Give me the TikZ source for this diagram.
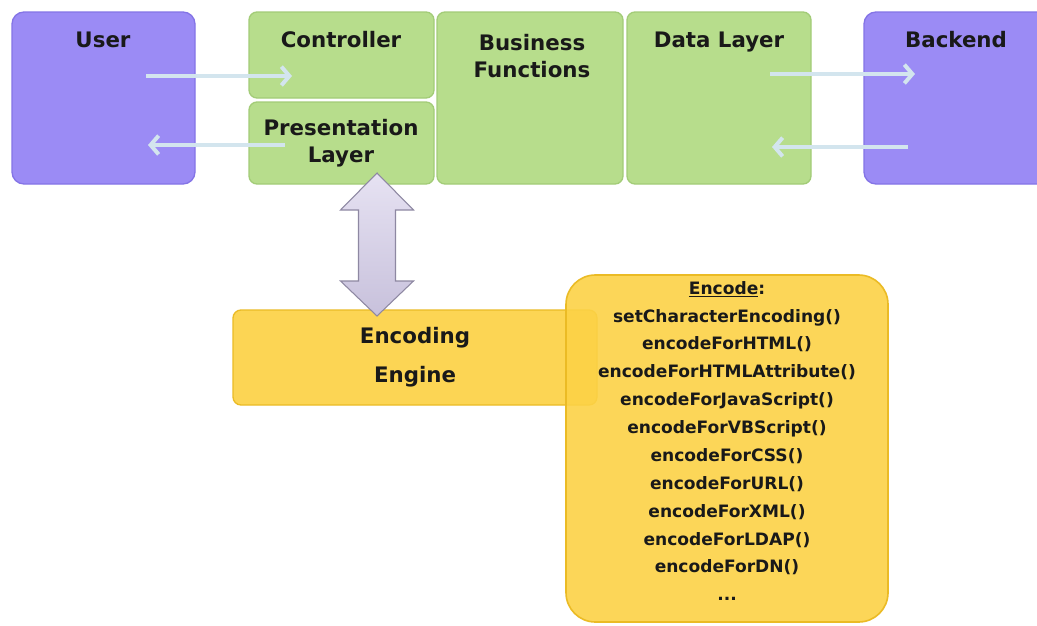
\documentclass[tikz,border=0pt]{standalone}
\usepackage{fontspec}
\setmainfont{DejaVu Sans}
\usetikzlibrary{arrows.meta}
\definecolor{purp}{HTML}{9B8BF5}
\definecolor{purpd}{HTML}{8474E6}
\definecolor{grn}{HTML}{B7DD8C}
\definecolor{grnd}{HTML}{A3CC78}
\definecolor{yel}{HTML}{FCD246}
\definecolor{yeld}{HTML}{EBBB25}
\definecolor{flow}{HTML}{D3E5EE}
\definecolor{lav}{HTML}{D6CFEA}
\definecolor{lavd}{HTML}{8E88A2}
\tikzset{
  px/.style={x=0.75pt,y=-0.75pt},
  pbox/.style={draw=purpd,line width=1pt,fill=purp,rounded corners=9pt,inner sep=0pt},
  gbox/.style={draw=grnd,line width=1pt,fill=grn,rounded corners=6pt,inner sep=0pt},
  lbl/.style={font=\bfseries\fontsize{16}{20.5}\selectfont,align=center,inner sep=0pt,text=black!90},
  flowarrow/.style={draw=flow,line width=3.4pt,-{Straight Barb[length=6pt,width=14pt,line width=3pt]}},
  code/.style={font=\bfseries\fontsize{12.8}{20.9}\selectfont,align=center,inner sep=0pt,text=black!90}
}
\begin{document}
\begin{tikzpicture}[px]
\useasboundingbox (0,0) rectangle (1037,625);
\fill[white] (0,0) rectangle (1037,625);
\begin{scope}
\clip (0,0) rectangle (1037,625);
% boxes
\node[pbox,minimum width=183*0.75pt,minimum height=172*0.75pt] (user) at (103.5,98) {};
\node[pbox,minimum width=190*0.75pt,minimum height=172*0.75pt] (backend) at (959,98) {};
\node[gbox,minimum width=185*0.75pt,minimum height=86*0.75pt] (ctrl) at (341.5,55) {};
\node[gbox,minimum width=185*0.75pt,minimum height=82*0.75pt] (pres) at (341.5,143) {};
\node[gbox,minimum width=186*0.75pt,minimum height=172*0.75pt] (bus) at (530,98) {};
\node[gbox,minimum width=184*0.75pt,minimum height=172*0.75pt] (data) at (719,98) {};
\end{scope}
% labels
\node[lbl] (tuser) at (103,40) {User};
\node[lbl] (tctrl) at (341,40) {Controller};
\node[lbl] (tpres) at (341,143) {Presentation\\Layer};
\node[lbl] (tbus) at (532,56) {Business\\Functions};
\node[lbl] (tdata) at (719,42) {Data Layer};
\node[lbl] (tback) at (956,40) {Backend};
% flow arrows
\coordinate (u1) at (146,76);
\coordinate (c1) at (292,76);
\coordinate (p1) at (285,145);
\coordinate (u2) at (148,145);
\coordinate (d1) at (770,74);
\coordinate (b1) at (915,74);
\coordinate (b2) at (908,147);
\coordinate (d2) at (772,147);
\draw[flowarrow] (u1) -- (c1);
\draw[flowarrow] (p1) -- (u2);
\draw[flowarrow] (d1) -- (b1);
\draw[flowarrow] (b2) -- (d2);
% encoding engine and encode list
\node[draw=yeld,line width=1pt,fill=yel,fill opacity=0.92,rounded corners=6pt,minimum width=364*0.75pt,minimum height=95*0.75pt,inner sep=0pt] (engine) at (415,357.5) {};
\node[draw=yeld,line width=1.2pt,fill=yel,fill opacity=0.9,rounded corners=22pt,minimum width=322*0.75pt,minimum height=347*0.75pt,inner sep=0pt] (encode) at (727,448.5) {};
\node[lbl] (tengine) at (415,357) {Encoding\\[9pt]Engine};
\node[code] (tencode) at (727,441) {\underline{Encode}:\\setCharacterEncoding()\\encodeForHTML()\\encodeForHTMLAttribute()\\encodeForJavaScript()\\encodeForVBScript()\\encodeForCSS()\\encodeForURL()\\encodeForXML()\\encodeForLDAP()\\encodeForDN()\\...};
% double arrow between presentation layer and engine
\draw[draw=lavd,line width=0.8pt,top color=white!40!lav,bottom color=lav!80!lavd]
  (377,173) -- (413.5,210) -- (395.5,210) -- (395.5,281) -- (413.5,281) -- (377,316)
  -- (340.5,281) -- (358.5,281) -- (358.5,210) -- (340.5,210) -- cycle;
\end{tikzpicture}
\end{document}
